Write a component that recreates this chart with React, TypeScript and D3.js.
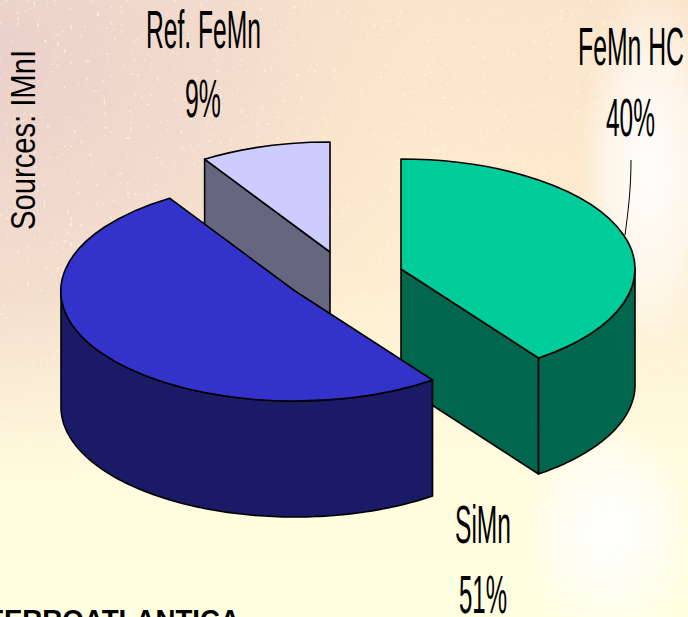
import React from 'react';
import * as d3 from 'd3';

// values as printed on the chart, in drawing order clockwise from 12 o'clock
const categories = ['FeMn HC', 'SiMn', 'Ref. FeMn'];
const shares = [40, 51, 9];
const topColors = ['#00CC99', '#3333CC', '#CCCCFF'];
const wallColors = ['#00664D', '#1A1A66', '#666680'];

const width = 688;
const height = 617;
const rx = 234;
const ry = 110;
const depth = 116;

// exploded slices: each one has its own centre
const centers: [number, number][] = [[401, 269], [295, 291], [330, 252]];

const pie = d3.pie<number>().sort(null).startAngle(0).endAngle(2 * Math.PI);
const slices = pie(shares);
const arc = d3.arc<any>().innerRadius(0).outerRadius(1);
const line = d3.line();

const onEllipse = (c: [number, number], a: number): [number, number] => [
  c[0] + rx * Math.sin(a),
  c[1] - ry * Math.cos(a),
];

// side wall along one radius of a slice
const radialWall = (c: [number, number], a: number) => {
  const p = onEllipse(c, a);
  return line([c, p, [p[0], p[1] + depth], [c[0], c[1] + depth]]) + 'Z';
};

// curved outer wall between two angles
const outerWall = (c: [number, number], a0: number, a1: number) => {
  const steps = d3.range(a0, a1, 0.02).concat(a1);
  const upper = steps.map(a => onEllipse(c, a));
  const lower = upper.map(p => [p[0], p[1] + depth] as [number, number]).reverse();
  return line([...upper, ...lower]) + 'Z';
};

const Label = ({ x, y, w, size = 54, children }: any) => (
  <text x={x} y={y} textLength={w} lengthAdjust="spacingAndGlyphs" fontSize={size}
    fontFamily="'Liberation Sans', Arial, sans-serif" fill="#000">
    {children}
  </text>
);

export default function App() {
  const [green, blue, ref] = slices;
  return (
    <svg width={width} height={height} style={{ position: 'absolute', left: 0, top: 0, display: 'block' }}>
      <defs>
        <linearGradient id="base" x1="0" y1="0" x2="0" y2="1">
          <stop offset="0" stopColor="#FBE4CC" />
          <stop offset="0.45" stopColor="#FDEDD0" />
          <stop offset="0.72" stopColor="#FFFBDE" />
          <stop offset="1" stopColor="#FFFFE2" />
        </linearGradient>
        <radialGradient id="pink" gradientUnits="userSpaceOnUse" cx="0" cy="60" r="430">
          <stop offset="0" stopColor="#E9CFCB" stopOpacity="0.95" />
          <stop offset="0.55" stopColor="#EED6CC" stopOpacity="0.65" />
          <stop offset="1" stopColor="#F6E0CE" stopOpacity="0" />
        </radialGradient>
        <radialGradient id="glow">
          <stop offset="0" stopColor="#FFFFFF" stopOpacity="0.95" />
          <stop offset="0.6" stopColor="#FFFFFF" stopOpacity="0.55" />
          <stop offset="1" stopColor="#FFFFFF" stopOpacity="0" />
        </radialGradient>
        <filter id="speckle" x="0" y="0" width="100%" height="100%" colorInterpolationFilters="sRGB">
          <feTurbulence type="fractalNoise" baseFrequency="0.3" numOctaves="1" seed="7" />
          <feColorMatrix type="matrix" values="0 0 0 0 1  0 0 0 0 1  0 0 0 0 0.88  6 6 0 0 -7.4" />
        </filter>
      </defs>

      <rect width={width} height={height} fill="url(#base)" />
      <rect width={width} height={height} fill="url(#pink)" />
      <ellipse cx={650} cy={170} rx={70} ry={190} fill="url(#glow)" />
      <ellipse cx={610} cy={530} rx={85} ry={110} fill="url(#glow)" />
      <rect width={width} height={height} filter="url(#speckle)" opacity={0.6} />

      {/* back to front: Ref. FeMn, FeMn HC, SiMn */}
      <g stroke="#000" strokeWidth={1.6} strokeLinejoin="round">
        <path d={radialWall(centers[2], ref.startAngle)} fill={wallColors[2]} />
        <path
          d={arc(ref) as string}
          transform={`translate(${centers[2][0]},${centers[2][1]}) scale(${rx},${ry})`}
          fill={topColors[2]}
          vectorEffect="non-scaling-stroke"
        />
        <path d={radialWall(centers[0], green.endAngle)} fill={wallColors[0]} />
        <path d={outerWall(centers[0], Math.PI / 2, green.endAngle)} fill={wallColors[0]} />
        <path
          d={arc(green) as string}
          transform={`translate(${centers[0][0]},${centers[0][1]}) scale(${rx},${ry})`}
          fill={topColors[0]}
          vectorEffect="non-scaling-stroke"
        />
        <path d={outerWall(centers[1], blue.startAngle, 1.5 * Math.PI)} fill={wallColors[1]} />
        <path
          d={arc(blue) as string}
          transform={`translate(${centers[1][0]},${centers[1][1]}) scale(${rx},${ry})`}
          fill={topColors[1]}
          vectorEffect="non-scaling-stroke"
        />
      </g>

      {/* leader for FeMn HC */}
      <path d="M631,160 C631,190 628,212 625,235" fill="none" stroke="#000" strokeWidth={1} />

      <Label x={146} y={48} w={115}>{categories[2]}</Label>
      <Label x={185} y={117} w={36}>{shares[2]}%</Label>
      <Label x={578} y={65} w={106}>{categories[0]}</Label>
      <Label x={606} y={136} w={49}>{shares[0]}%</Label>
      <Label x={455} y={543} w={56}>{categories[1]}</Label>
      <Label x={459} y={613} w={48}>{shares[1]}%</Label>

      <g transform="translate(35,230) rotate(-90)">
        <Label x={0} y={0} w={180} size={35}>Sources: IMnI</Label>
      </g>

      <text x={-13} y={630} fontSize={29} fontWeight="bold" fontFamily="'Liberation Sans', Arial, sans-serif" fill="#000"
        textLength={253} lengthAdjust="spacingAndGlyphs">
        FERROATLANTICA
      </text>
    </svg>
  );
}
